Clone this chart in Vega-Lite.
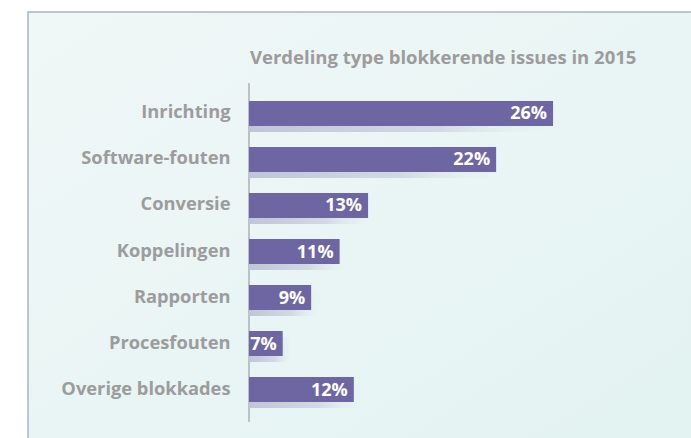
{
  "$schema": "https://vega.github.io/schema/vega-lite/v6.json",
  "autosize": {"type": "none"},
  "padding": {"left": 28, "top": 12, "right": 0, "bottom": 0},
  "width": 680,
  "height": 440,
  "background": "#ffffff",
  "title": {
    "text": "Verdeling type blokkerende issues in 2015",
    "anchor": "start",
    "frame": "group",
    "dx": 222,
    "offset": -74,
    "baseline": "bottom",
    "font": "Open Sans",
    "fontSize": 18.5,
    "fontWeight": "bold",
    "color": "#9c9c9c"
  },
  "config": {
    "view": {
      "fill": {
        "gradient": "linear",
        "x1": 0, "y1": 0, "x2": 1, "y2": 1,
        "stops": [
          {"offset": 0, "color": "#f0f7f7"},
          {"offset": 1, "color": "#e2f3f1"}
        ]
      },
      "stroke": "#a8b6c0",
      "strokeWidth": 1.5
    }
  },
  "data": {
    "values": [
      {"cat": "Inrichting", "value": 0.26},
      {"cat": "Software-fouten", "value": 0.22},
      {"cat": "Conversie", "value": 0.13},
      {"cat": "Koppelingen", "value": 0.11},
      {"cat": "Rapporten", "value": 0.09},
      {"cat": "Procesfouten", "value": 0.07},
      {"cat": "Overige blokkades", "value": 0.12}
    ]
  },
  "encoding": {
    "y": {
      "field": "cat",
      "type": "nominal",
      "scale": {
        "domain": ["Inrichting", "Software-fouten", "Conversie", "Koppelingen", "Rapporten", "Procesfouten", "Overige blokkades"],
        "range": [89, 390],
        "paddingInner": 0.457,
        "paddingOuter": 0
      },
      "axis": {
        "title": null,
        "orient": "left",
        "offset": -221,
        "domain": false,
        "ticks": false,
        "labelPadding": 19,
        "labelFont": "Open Sans",
        "labelFontWeight": "bold",
        "labelFontSize": 18.3,
        "labelColor": "#9c9c9c"
      }
    },
    "x": {
      "field": "value",
      "type": "quantitative",
      "scale": {"domain": [-0.109, 0.3689], "zero": false, "nice": false},
      "axis": null
    }
  },
  "layer": [
    {
      "mark": {"type": "rule", "color": "#bcc1c5", "strokeWidth": 1.5, "yOffset": -30, "y2Offset": 32},
      "encoding": {
        "x": {"datum": 0.0463, "type": "quantitative"},
        "y": {"datum": "Inrichting"},
        "y2": {"datum": "Overige blokkades"}
      }
    },
    {
      "mark": {
        "type": "bar",
        "yOffset": 6,
        "xOffset": 10,
        "color": {
          "gradient": "linear",
          "x1": 0, "y1": 0, "x2": 1, "y2": 0,
          "stops": [
            {"offset": 0, "color": "#c0c5d8"},
            {"offset": 0.6, "color": "#d3d9e3"},
            {"offset": 1, "color": "rgba(232,243,243,0)"}
          ]
        }
      },
      "encoding": {
        "x2": {"datum": 0.0463}
      }
    },
    {
      "mark": {"type": "bar", "color": "#6e66a3"},
      "encoding": {
        "x2": {"datum": 0.0463}
      }
    },
    {
      "mark": {
        "type": "text",
        "align": "right",
        "baseline": "middle",
        "dx": -6,
        "dy": 1,
        "color": "#ffffff",
        "font": "Open Sans",
        "fontWeight": "bold",
        "fontSize": 18
      },
      "encoding": {
        "text": {"field": "value", "type": "quantitative", "format": ".0%"}
      }
    }
  ]
}
